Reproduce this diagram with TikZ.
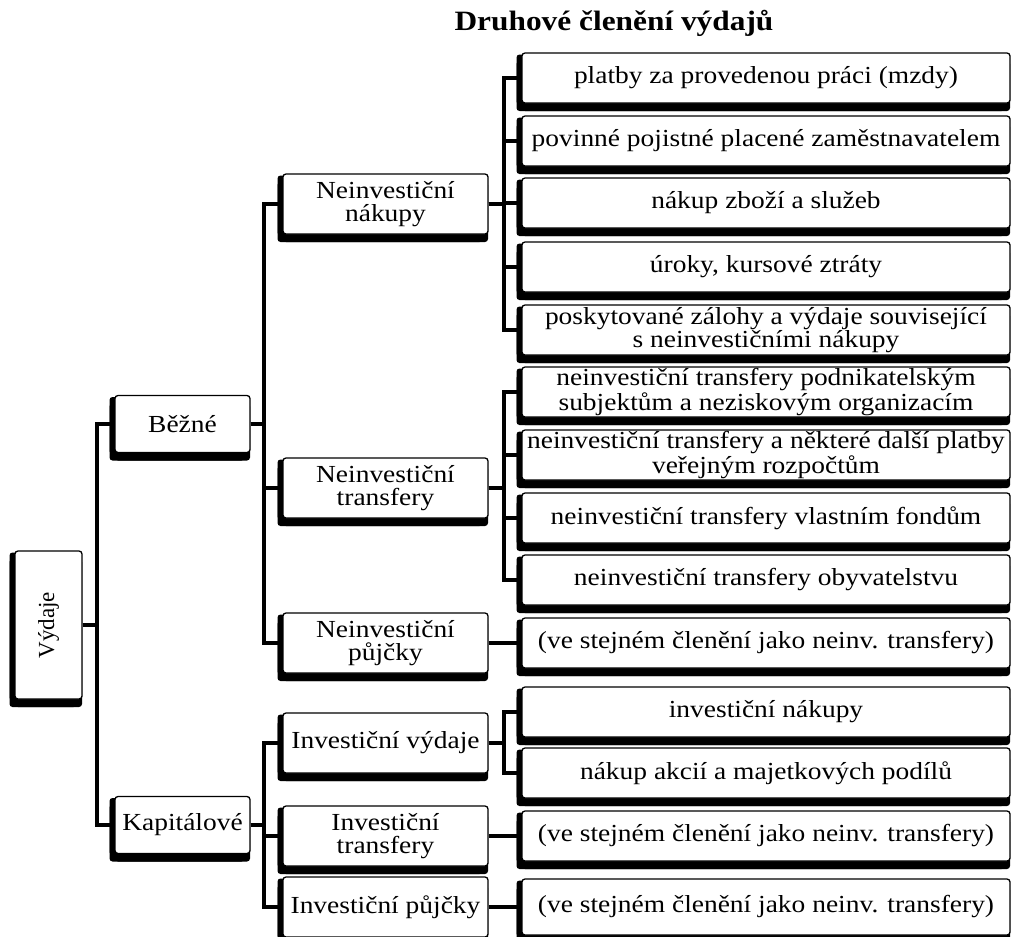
\documentclass[tikz,border=0pt]{standalone}
\usepackage{fontspec}
\setmainfont{Liberation Serif}[FakeStretch=1.12]
\newfontfamily\uprightfont{Liberation Serif}
\usetikzlibrary{shadows}

\begin{document}
\begin{tikzpicture}[x=1pt, y=-1pt,
    card/.style={draw=black, line width=1.3pt, fill=white, rounded corners=3pt,
        inner sep=1pt, align=center, font=\fontsize{24.5}{23}\selectfont,
        drop shadow={shadow xshift=-5.5pt, shadow yshift=-1.5pt, fill=black, opacity=1},
        drop shadow={shadow xshift=-5.5pt, shadow yshift=-8pt, fill=black, opacity=1},
        drop shadow={shadow xshift=0pt, shadow yshift=-8pt, fill=black, opacity=1}},
    topcard/.style={card, minimum width=135pt, minimum height=57pt},
    midcard/.style={card, minimum width=205pt, minimum height=60pt},
    leafcard/.style={card, minimum width=488pt, minimum height=50pt},
    link/.style={line width=4.2pt, line join=miter}]
    \path[use as bounding box] (0,0) rectangle (1012,937);
    \clip (0,0) rectangle (1012,937);

    % Title
    \node[font=\fontsize{28}{30}\selectfont\bfseries] (title) at (614,23) {Druhové členění výdajů};

    % Root and first level
    \node[card, minimum width=67pt, minimum height=148pt] (vydaje) at (48.5,625) {\uprightfont\fontsize{23}{23}\selectfont\rotatebox{90}{Výdaje}};
    \node[topcard] (bezne) at (182.5,424) {Běžné};
    \node[topcard] (kapital) at (182.5,825) {Kapitálové};

    % Second level
    \node[midcard] (nnakupy) at (385.5,204) {Neinvestiční\\nákupy};
    \node[midcard] (ntransfery) at (385.5,488) {Neinvestiční\\transfery};
    \node[midcard] (npujcky) at (385.5,643) {Neinvestiční\\půjčky};
    \node[midcard] (ivydaje) at (385.5,743) {Investiční výdaje};
    \node[midcard] (itransfery) at (385.5,836) {Investiční\\transfery};
    \node[midcard] (ipujcky) at (385.5,907) {Investiční půjčky};

    % Leaves
    \node[leafcard] (mzdy) at (766,78) {platby za provedenou práci (mzdy)};
    \node[leafcard] (pojistne) at (766,141) {povinné pojistné placené zaměstnavatelem};
    \node[leafcard] (zbozi) at (766,203) {nákup zboží a služeb};
    \node[leafcard] (uroky) at (766,267) {úroky, kursové ztráty};
    \node[leafcard] (zalohy) at (766,330) {poskytované zálohy a výdaje související\\s neinvestičními nákupy};
    \node[leafcard] (podnik) at (766,392) {neinvestiční transfery podnikatelským\\subjektům a neziskovým organizacím};
    \node[leafcard] (rozpocty) at (766,455) {neinvestiční transfery a některé další platby\\veřejným rozpočtům};
    \node[leafcard] (fondy) at (766,518) {neinvestiční transfery vlastním fondům};
    \node[leafcard] (obyv) at (766,580) {neinvestiční transfery obyvatelstvu};
    \node[leafcard] (npclen) at (766,643) {(ve stejném členění jako neinv. transfery)};
    \node[leafcard] (inakupy) at (766,712) {investiční nákupy};
    \node[leafcard] (akcie) at (766,773) {nákup akcií a majetkových podílů};
    \node[leafcard] (itclen) at (766,836) {(ve stejném členění jako neinv. transfery)};
    \node[leafcard, minimum height=56pt] (ipclen) at (766,907) {(ve stejném členění jako neinv. transfery)};

    % Connectors
    \draw[link] (vydaje.east) -- ++(14,0) |- (bezne.west);
    \draw[link] (vydaje.east) -- ++(14,0) |- (kapital.west);

    \draw[link] (bezne.east) -- ++(13,0) |- (nnakupy.west);
    \draw[link] (bezne.east) -- ++(13,0) |- (ntransfery.west);
    \draw[link] (bezne.east) -- ++(13,0) |- (npujcky.west);
    \draw[link] (kapital.east) -- ++(13,0) |- (ivydaje.west);
    \draw[link] (kapital.east) -- ++(13,0) |- (itransfery.west);
    \draw[link] (kapital.east) -- ++(13,0) |- (ipujcky.west);

    \draw[link] (nnakupy.east) -- ++(15,0) |- (mzdy.west);
    \draw[link] (nnakupy.east) -- ++(15,0) |- (pojistne.west);
    \draw[link] (nnakupy.east) -- ++(15,0) |- (zbozi.west);
    \draw[link] (nnakupy.east) -- ++(15,0) |- (uroky.west);
    \draw[link] (nnakupy.east) -- ++(15,0) |- (zalohy.west);

    \draw[link] (ntransfery.east) -- ++(15,0) |- (podnik.west);
    \draw[link] (ntransfery.east) -- ++(15,0) |- (rozpocty.west);
    \draw[link] (ntransfery.east) -- ++(15,0) |- (fondy.west);
    \draw[link] (ntransfery.east) -- ++(15,0) |- (obyv.west);

    \draw[link] (npujcky.east) -- (npclen.west);

    \draw[link] (ivydaje.east) -- ++(15,0) |- (inakupy.west);
    \draw[link] (ivydaje.east) -- ++(15,0) |- (akcie.west);

    \draw[link] (itransfery.east) -- (itclen.west);
    \draw[link] (ipujcky.east) -- (ipclen.west);
\end{tikzpicture}
\end{document}
